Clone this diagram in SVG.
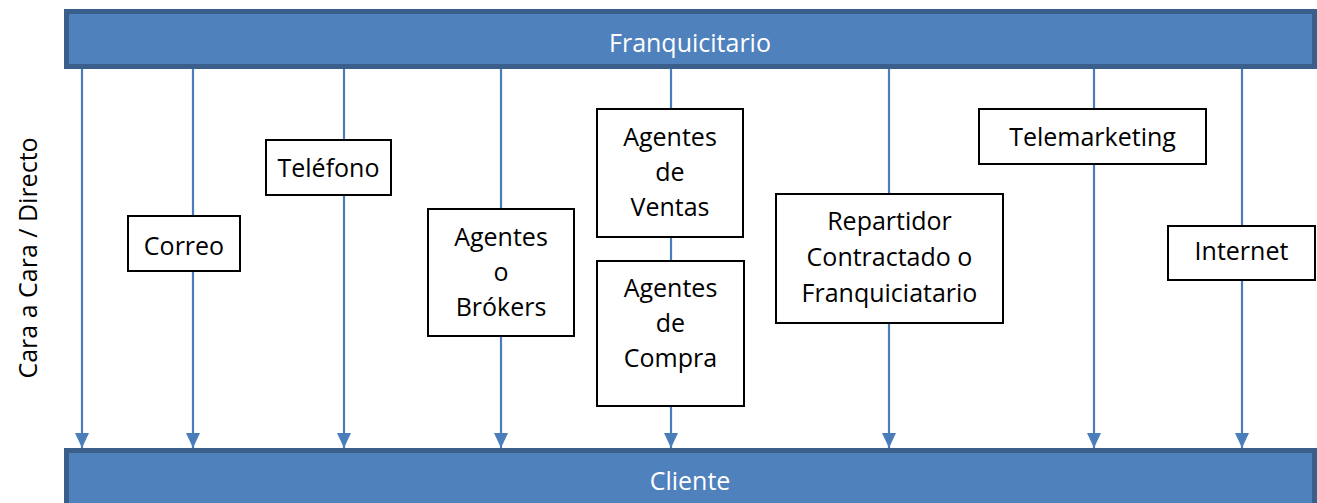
<svg xmlns="http://www.w3.org/2000/svg" width="1317" height="503" viewBox="0 0 1317 503">
<defs>
<style>
.bar{fill:#4F81BD;stroke:#3A5F8B;stroke-width:5}
.bt{font-family:"Open Sans","Liberation Sans",Arial,sans-serif;font-size:25px;fill:#FFFFFF;text-anchor:middle}
.box{fill:#FFFFFF;stroke:#000000;stroke-width:2}
.t{font-family:"Open Sans","Liberation Sans",Arial,sans-serif;font-size:25px;fill:#000000;text-anchor:middle}
.c{stroke:#4A7EBB;stroke-width:2.2;fill:none;marker-end:url(#ah)}
</style>
<marker id="ah" markerWidth="15" markerHeight="14" refX="15" refY="7" orient="auto" markerUnits="userSpaceOnUse" viewBox="0 0 15 14">
<path d="M0,0 L15,7 L0,14 Z" fill="#4A7EBB"/>
</marker>
</defs>
<rect width="1317" height="503" fill="#FFFFFF"/>
<g id="connectors">
<line class="c" x1="82" y1="68" x2="82" y2="448"/>
<line class="c" x1="193" y1="68" x2="193" y2="448"/>
<line class="c" x1="344" y1="68" x2="344" y2="448"/>
<line class="c" x1="501" y1="68" x2="501" y2="448"/>
<line class="c" x1="671" y1="68" x2="671" y2="448"/>
<line class="c" x1="889" y1="68" x2="889" y2="448"/>
<line class="c" x1="1094" y1="68" x2="1094" y2="448"/>
<line class="c" x1="1242" y1="68" x2="1242" y2="448"/>
</g>
<g id="franquicitario">
<rect class="bar" x="66.5" y="11.5" width="1248" height="55"/>
<text class="bt" x="690" y="52">Franquicitario</text>
</g>
<g id="cliente">
<rect class="bar" x="66.5" y="450.5" width="1248" height="60"/>
<text class="bt" x="690" y="490">Cliente</text>
</g>
<g id="lado">
<text class="t" transform="translate(37,258) rotate(-90)">Cara a Cara / Directo</text>
</g>
<g id="correo">
<rect class="box" x="128" y="216" width="112" height="55"/>
<text class="t" x="184" y="255">Correo</text>
</g>
<g id="telefono">
<rect class="box" x="266" y="140" width="125" height="55"/>
<text class="t" x="328.5" y="177">Teléfono</text>
</g>
<g id="brokers">
<rect class="box" x="428" y="209" width="146" height="127"/>
<text class="t" x="501" y="246">Agentes</text>
<text class="t" x="501" y="281">o</text>
<text class="t" x="501" y="316">Brókers</text>
</g>
<g id="ventas">
<rect class="box" x="597" y="109" width="146" height="128"/>
<text class="t" x="670" y="146">Agentes</text>
<text class="t" x="670" y="181">de</text>
<text class="t" x="670" y="216">Ventas</text>
</g>
<g id="compra">
<rect class="box" x="597" y="261" width="147" height="145"/>
<text class="t" x="670.5" y="297">Agentes</text>
<text class="t" x="670.5" y="332">de</text>
<text class="t" x="670.5" y="367">Compra</text>
</g>
<g id="repartidor">
<rect class="box" x="776" y="194" width="227" height="129"/>
<text class="t" x="889.5" y="230">Repartidor</text>
<text class="t" x="889.5" y="266">Contractado o</text>
<text class="t" x="889.5" y="302">Franquiciatario</text>
</g>
<g id="telemarketing">
<rect class="box" x="979" y="109" width="227" height="55"/>
<text class="t" x="1092.5" y="146">Telemarketing</text>
</g>
<g id="internet">
<rect class="box" x="1168" y="226" width="147" height="54"/>
<text class="t" x="1241.5" y="260">Internet</text>
</g>
</svg>
